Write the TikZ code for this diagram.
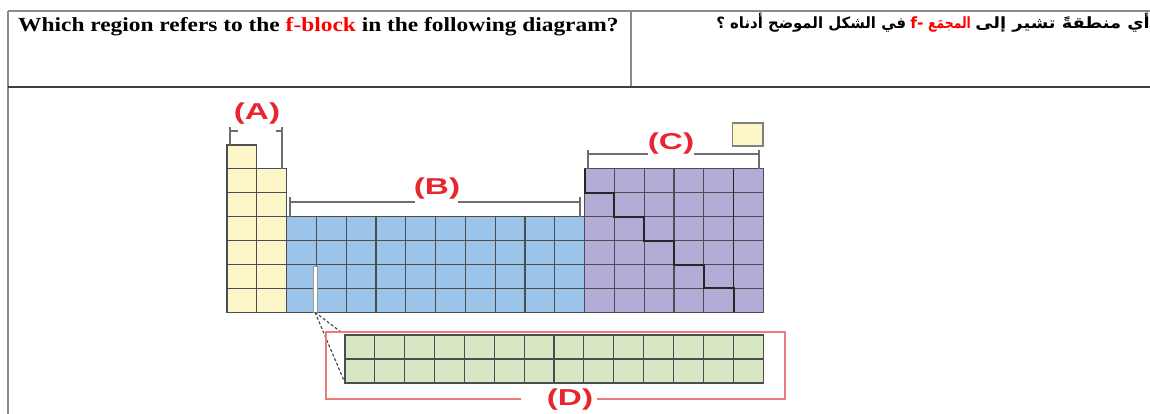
\documentclass[tikz,border=0pt]{standalone}
\usepackage{fontspec}
\usepackage{graphicx}
\setmainfont{Liberation Serif}
\newfontfamily\labelfont{Liberation Sans}
\newfontfamily\arabicfont[Script=Arabic]{DejaVu Sans}
\TeXXeTstate=1
\usetikzlibrary{positioning,calc}
\definecolor{qred}{HTML}{FF0000}
\definecolor{lblred}{HTML}{E8262E}
\definecolor{boxred}{HTML}{F07A7A}
\definecolor{sblock}{HTML}{FDF6C8}
\definecolor{dblock}{HTML}{9CC4E8}
\definecolor{pblock}{HTML}{B2ACD6}
\definecolor{fblock}{HTML}{D7E7C4}
\definecolor{gridgray}{HTML}{4A4E52}
\definecolor{rulegray}{HTML}{8A8A8A}
\definecolor{brgray}{HTML}{6E6E6E}

\begin{document}
\begin{tikzpicture}[x=1pt, y=-1pt,
    cellbox/.style={draw=gridgray, line width=1.1pt},
    bracketline/.style={draw=brgray, line width=1.2pt},
    blocklabel/.style={text=lblred, font=\labelfont\bfseries\fontsize{23}{24}\selectfont, inner sep=0pt},
    arabictext/.style={font=\arabicfont\bfseries\fontsize{15.5}{18}\selectfont, inner sep=0pt},
    tablerule/.style={draw=rulegray, line width=1.5pt},
    fdashed/.style={draw=gridgray, dash pattern=on 3pt off 2pt, line width=1.2pt}]
  \useasboundingbox (0,0) rectangle (1150,414);

  \draw[tablerule] (8,11) -- (1150,11);
  \draw[tablerule, line width=2pt] (8,11) -- (8,414);
  \draw[tablerule] (631,11) -- (631,87);
  \draw[draw=black!75, line width=2pt] (8,87) -- (1150,87);
  \node[anchor=base west, font=\fontsize{20}{22}\selectfont\bfseries, inner sep=0pt] (qen) at (18,31.5)
    {\scalebox{1.17}[1]{Which region refers to the \textcolor{qred}{f-block} in the following diagram?}};
  \node[arabictext, anchor=base east] (qar1) at (1150,29) {\scalebox{1.15}[1]{\beginR أي منطقةً تشير إلى\endR}};
  \node[arabictext, text=qred, base left=4pt of qar1] (qar2) {\scalebox{0.8}[1]{\beginR المجمَع\endR}};
  \node[arabictext, text=qred, base left=4pt of qar2] (qar3) {f-};
  \node[arabictext, base left=4pt of qar3] (qar4) {\scalebox{0.96}[1]{\beginR في الشكل الموضح أدناه ؟\endR}};

  \foreach \r in {0,...,6}
    \filldraw[cellbox, fill=sblock] (227,{145+\r*23.9}) rectangle ++(29.8,23.9);
  \foreach \r in {1,...,6}
    \filldraw[cellbox, fill=sblock] (256.8,{145+\r*23.9}) rectangle ++(29.8,23.9);
  \foreach \c in {2,...,11}
    \foreach \r in {3,...,6}
      \filldraw[cellbox, fill=dblock] ({227+\c*29.8},{145+\r*23.9}) rectangle ++(29.8,23.9);
  \foreach \c in {12,...,17}
    \foreach \r in {1,...,6}
      \filldraw[cellbox, fill=pblock] ({227+\c*29.8},{145+\r*23.9}) rectangle ++(29.8,23.9);
  \filldraw[cellbox, draw=gray, fill=sblock] (732.5,123) rectangle (763,146);
  \draw[draw=black!85, line width=1.6pt] (733.6,168.9) -- (733.6,312.3);
  \draw[draw=black!85, line width=2pt] (584.6,168.9) -- (584.6,192.8) -- (614.4,192.8) -- (614.4,216.7)
    -- (644.2,216.7) -- (644.2,240.6) -- (674,240.6) -- (674,264.5) -- (703.8,264.5) -- (703.8,288.4)
    -- (733.6,288.4) -- (733.6,312.3);
  \filldraw[fill=white, draw=gray!80] (313,266) rectangle (317.5,312.3);

  \draw[bracketline] (230,145) -- (230,127) (230,131) -- (238,131);
  \draw[bracketline] (282,169) -- (282,127) (282,131) -- (276,131);
  \draw[bracketline] (290,217) -- (290,197) (290,202) -- (415,202);
  \draw[bracketline] (580,217) -- (580,197) (580,202) -- (458,202);
  \draw[bracketline] (588,169) -- (588,150) (588,154) -- (648,154);
  \draw[bracketline] (759,169) -- (759,150) (759,154) -- (694,154);
  \node[blocklabel] (labA) at (257,114) {\scalebox{1.45}[1]{(A)}};
  \node[blocklabel] (labB) at (437,189) {\scalebox{1.45}[1]{(B)}};
  \node[blocklabel] (labC) at (671,144) {\scalebox{1.45}[1]{(C)}};

  \coordinate (slit) at (315,312.3);
  \coordinate (fnw) at (345,335);
  \coordinate (fsw) at (345,383);
  \draw[fdashed, shorten >=5pt] (slit) -- (fnw);
  \draw[fdashed, shorten >=3pt] (slit) -- (fsw);
  \draw[draw=boxred, line width=1.3pt] (521,399) -- (326,399) -- (326,332) -- (785,332) -- (785,399) -- (597,399);
  \node[blocklabel] (labD) at (570,400) {\scalebox{1.45}[1]{(D)}};
  \foreach \c in {0,...,13}
    \foreach \r in {0,1}
      \filldraw[cellbox, fill=fblock] ({345+\c*29.86},{335+\r*24}) rectangle ++(29.86,24);
\end{tikzpicture}
\end{document}
